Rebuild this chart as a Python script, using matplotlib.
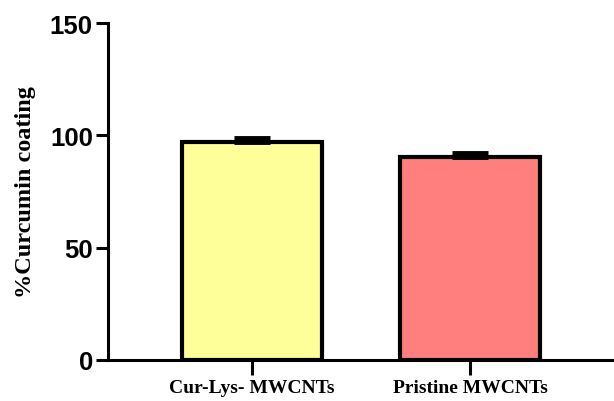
import numpy as np
import matplotlib.pyplot as plt

# coating efficiency for each sample
samples = ["Cur-Lys- MWCNTs", "Pristine MWCNTs"]
coating = [97.2, 90.6]
coating_sd = [1.6, 1.5]
bar_colors = ["#FFFF99", "#FF7F7F"]

fig = plt.figure(figsize=(6.14, 4.02), dpi=100)
ax = fig.add_axes([0.176, 0.102, 0.824, 0.838])

x = np.arange(len(samples))
ax.bar(x, coating, width=0.64, color=bar_colors, edgecolor="black",
       linewidth=3, zorder=2)
ax.errorbar(x, coating, yerr=[np.zeros(len(coating)), coating_sd],
            fmt="none", ecolor="black", elinewidth=2.6, capsize=13,
            capthick=3.5, zorder=3)

ax.set_xlim(-0.66, 1.66)
ax.set_ylim(0, 150)
ax.set_yticks([0, 50, 100, 150])
ax.set_xticks(x)
ax.set_xticklabels(samples, fontfamily="Liberation Serif", fontweight="bold",
                   fontsize=14)
for lbl in ax.get_yticklabels():
    lbl.set_fontfamily("Liberation Sans")
    lbl.set_fontweight("bold")
    lbl.set_fontsize(18.5)

ax.set_ylabel("%Curcumin coating", fontfamily="Liberation Serif",
              fontweight="bold", fontsize=17.5, labelpad=10)

for side in ["top", "right"]:
    ax.spines[side].set_visible(False)
for side in ["left", "bottom"]:
    ax.spines[side].set_linewidth(2.2)

ax.tick_params(axis="y", length=9, width=2.2, pad=2)
ax.tick_params(axis="x", direction="inout", length=21, width=2.2, pad=3.5)

fig.savefig("out.png", dpi=100)
